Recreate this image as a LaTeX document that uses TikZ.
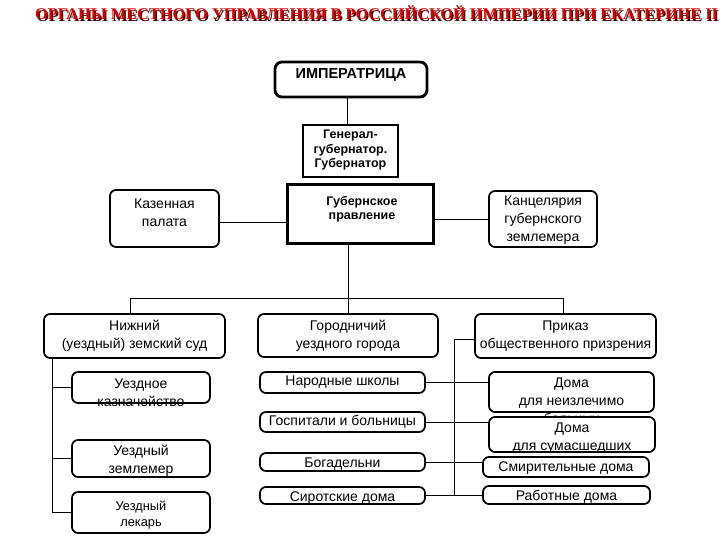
\documentclass[tikz,border=0pt]{standalone}
\usepackage{fontspec}
\setmainfont{Liberation Sans}
\newfontfamily\titlefont{Liberation Serif}
\definecolor{titlered}{HTML}{D80000}
\definecolor{titleshadow}{HTML}{3A0000}
\tikzset{
  rbox/.style={draw, rounded corners=6pt, line width=1.7pt, fill=white, inner sep=0pt},
  impbox/.style={draw, rounded corners=7pt, line width=2.8pt, fill=white, inner sep=0pt},
  sbox/.style={draw, line width=2.6pt, fill=white, inner sep=0pt},
  txt/.style={align=center, inner sep=0pt, font=\fontsize{14}{18}\selectfont},
  stxt/.style={align=center, inner sep=0pt, font=\fontsize{12.8}{16}\selectfont},
  btxt/.style={align=center, inner sep=0pt, font=\fontsize{12.5}{14.5}\selectfont\bfseries},
  bigbtxt/.style={align=center, inner sep=0pt, font=\fontsize{14.5}{16}\selectfont\bfseries},
  conn/.style={line width=0.9pt},
  ttl/.style={anchor=base west, inner sep=0pt, font=\titlefont\bfseries\fontsize{16.3}{18}\selectfont},
}
\newcommand\bx[8]{\node[#6, minimum width={(#4)-(#2)}, minimum height={(#5)-(#3)}, label={[#7]center:{#8}}] (#1) at ({((#2)+(#4))/2},{((#3)+(#5))/2}) {};}
\begin{document}
\begin{tikzpicture}[x=1pt,y=-1pt]
\useasboundingbox[fill=white] (0,0) rectangle (720,540);
% title
\node[ttl, text=titleshadow] (titleS) at (36.3,21.3) {ОРГАНЫ МЕСТНОГО УПРАВЛЕНИЯ В РОССИЙСКОЙ ИМПЕРИИ ПРИ ЕКАТЕРИНЕ II};
\node[ttl, text=titlered] (title) at (35,20) {ОРГАНЫ МЕСТНОГО УПРАВЛЕНИЯ В РОССИЙСКОЙ ИМПЕРИИ ПРИ ЕКАТЕРИНЕ II};
% boxes
\bx{imp}{275}{62}{427}{97}{impbox}{bigbtxt, yshift=4.5pt}{ИМПЕРАТРИЦА}
\bx{gen}{303}{125}{398}{177}{sbox}{btxt, yshift=1pt}{Генерал-\\губернатор.\\Губернатор}
\bx{gub}{287}{185}{433}{243}{sbox, line width=3pt}{btxt, yshift=5pt, xshift=2pt}{Губернское\\правление}
\bx{kaz}{110}{190}{219}{247}{rbox}{txt, yshift=6pt}{Казенная\\палата}
\bx{kanc}{489}{191}{597}{247}{rbox}{txt, yshift=-1.5pt}{Канцелярия\\губернского\\землемера}
\bx{nizh}{44}{314}{225}{358}{rbox}{txt}{Нижний\\(уездный) земский суд}
\bx{gor}{258}{314}{438}{357}{rbox}{txt}{Городничий\\уездного города}
\bx{prik}{475}{314}{656}{358}{rbox}{txt}{Приказ\\общественного призрения}
\bx{kazn}{72}{372}{210}{403}{rbox}{txt, yshift=-5pt}{Уездное\\казначейство}
\bx{zeml}{72}{440}{210}{477}{rbox}{txt, yshift=-2.5pt}{Уездный\\землемер}
\bx{lek}{72}{492}{210}{533}{rbox}{stxt, yshift=-2.5pt}{Уездный\\лекарь}
\bx{shk}{260}{372}{425}{393}{rbox}{txt}{Народные школы}
\bx{gosp}{260}{412}{425}{432}{rbox}{txt}{Госпитали и больницы}
\bx{bog}{260}{453}{425}{471}{rbox}{txt, yshift=-2pt}{Богадельни}
\bx{sir}{260}{487}{425}{504}{rbox}{txt, yshift=-2.5pt}{Сиротские дома}
\bx{neiz}{489}{372}{654}{412}{rbox}{txt, yshift=-9pt}{Дома\\для неизлечимо\\больных}
\bx{sum}{489}{417}{655}{452}{rbox}{txt, yshift=-3.5pt}{Дома\\для сумасшедших}
\bx{smir}{483}{457}{649}{477}{rbox}{txt, yshift=-1pt}{Смирительные дома}
\bx{rab}{483}{486}{650}{504}{rbox}{txt, yshift=-2pt}{Работные дома}
% connectors
\coordinate (cImp) at (347,0);
\draw[conn] (imp.south -| cImp) -- (gen.north -| cImp);
\draw[conn] ([yshift=-3.5pt]kaz.east) -- ([yshift=-3.5pt]kaz.east -| gub.west);
\draw[conn] (gub.east |- kanc.west) -- (kanc.west);
\draw[conn] (gub.south -| gor.north) -- (gor.north);
\coordinate (busL) at (130,298);
\coordinate (busR) at (563,298);
\draw[conn] (nizh.north -| busL) -- (busL) -- (busR) -- (prik.north -| busR);
\coordinate (lb) at (52,0);
\draw[conn] (nizh.south -| lb) |- (lek.west);
\draw[conn] (kazn.west -| lb) -- (kazn.west);
\draw[conn] (zeml.west -| lb) -- (zeml.west);
\coordinate (rb) at (454,0);
\draw[conn] ([yshift=-3pt]prik.west) -| (rb |- sir.east);
\draw[conn] (shk.east) -- (shk.east -| neiz.west);
\draw[conn] (gosp.east) -- (gosp.east -| sum.west);
\draw[conn] (bog.east) -- (bog.east -| smir.west);
\draw[conn] (sir.east) -- (sir.east -| rab.west);
\end{tikzpicture}
\end{document}
